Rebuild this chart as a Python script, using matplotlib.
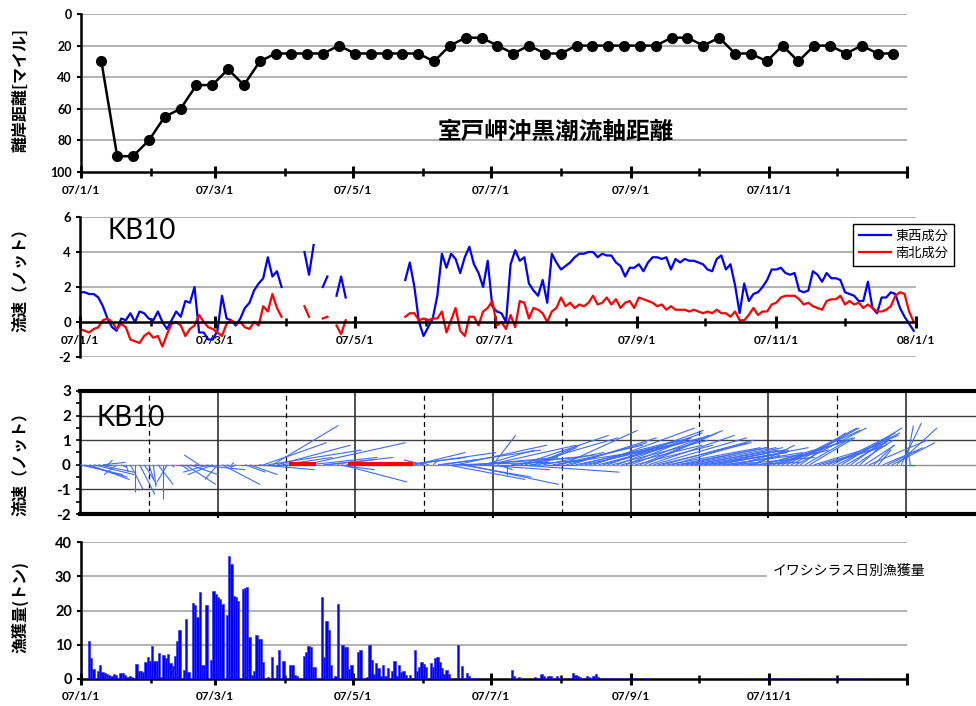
import numpy as np
import matplotlib.pyplot as plt
from matplotlib.collections import LineCollection

plt.rcParams['font.family'] = ['Lato', 'Noto Sans CJK JP', 'DejaVu Sans']

nan = np.nan

# x axis in days since 2007-01-01
month_start = [0, 31, 59, 90, 120, 151, 181, 212, 243, 273, 304, 334, 365]
major_days = [0, 59, 120, 181, 243, 304, 365]
minor_days = [31, 90, 151, 212, 273, 334]
major_labels = ['07/1/1', '07/3/1', '07/5/1', '07/7/1', '07/9/1', '07/11/1', '08/1/1']
major_labels_short = ['07/1/1', '07/3/1', '07/5/1', '07/7/1', '07/9/1', '07/11/1', '']

# panel 1: weekly distance of Kuroshio axis off Cape Muroto (miles)
axis_first_day = 9
axis_dist = [30, 90, 90, 80, 65, 60, 45, 45, 35, 45,
             30, 25, 25, 25, 25, 20, 25, 25, 25, 25,
             25, 30, 20, 15, 15, 20, 25, 20, 25, 25,
             20, 20, 20, 20, 20, 20, 15, 15, 20, 15,
             25, 25, 30, 20, 30, 20, 20, 25, 20, 25, 25]

# panel 2: current at KB10, every 2 days (knots)
cur_step = 2
east_west = [1.7, 1.7, 1.6, 1.6, 1.4, 0.9, 0.2, -0.3, -0.5, 0.2,
             0.1, 0.5, 0.0, 0.6, 0.5, 0.2, 0.1, 0.6, 0.0, -0.4,
             0.1, 0.6, 0.3, 1.2, 1.1, 2.0, -0.6, -0.6, -1.0, -1.0,
             -0.5, 1.5, 0.2, 0.1, -0.2, 0.2, 0.8, 1.1, 1.8, 2.2,
             2.5, 3.7, 2.6, 2.9, 2.0, nan, nan, nan, nan, 4.0,
             2.7, 4.4, nan, 2.0, 2.6, nan, 1.5, 2.6, 1.4, nan,
             nan, nan, nan, nan, nan, nan, nan, nan, nan, nan,
             nan, 2.4, 3.4, 2.0, 0.0, -0.8, -0.3, 0.2, 1.5, 3.9,
             3.1, 3.9, 3.6, 2.8, 3.7, 4.3, 3.3, 2.8, 2.0, 3.5,
             0.9, 0.6, 0.5, 0.0, 3.3, 4.1, 3.5, 3.7, 2.2, 1.8,
             1.5, 2.4, 1.1, 3.9, 3.4, 3.0, 3.2, 3.4, 3.7, 3.9,
             3.9, 4.0, 4.0, 3.7, 3.9, 3.8, 3.8, 3.4, 3.2, 2.6,
             3.1, 3.1, 3.3, 2.9, 3.4, 3.7, 3.7, 3.6, 3.7, 3.0,
             3.6, 3.4, 3.6, 3.5, 3.5, 3.4, 3.3, 3.0, 2.9, 3.6,
             3.8, 3.0, 3.3, 2.1, 0.5, 2.2, 1.2, 1.6, 1.7, 2.0,
             2.4, 3.0, 3.0, 3.1, 2.8, 2.7, 2.8, 1.8, 1.7, 1.8,
             2.9, 2.7, 2.3, 2.8, 2.5, 2.5, 2.4, 1.7, 1.6, 1.5,
             1.2, 1.2, 2.3, 0.8, 0.5, 1.4, 1.4, 1.7, 1.6, 0.8,
             0.3, -0.1, -0.5]
north_south = [-0.4, -0.5, -0.6, -0.4, -0.3, 0.1, 0.2, 0.0, -0.4, -0.1,
               -0.3, -1.0, -1.1, -1.2, -0.8, -0.6, -0.9, -0.8, -1.4, -0.7,
               -0.1, 0.0, -0.2, -0.8, -0.4, -0.2, 0.4, 0.0, -0.3, -0.4,
               -0.6, -0.8, -0.1, 0.1, -0.1, 0.0, -0.3, -0.4, 0.0, -0.2,
               0.9, 0.6, 1.6, 0.8, 0.3, nan, nan, nan, nan, 0.9,
               0.3, nan, nan, 0.2, 0.3, nan, -0.2, -0.7, 0.1, nan,
               nan, nan, nan, nan, nan, nan, nan, nan, nan, nan,
               nan, 0.3, 0.5, 0.5, 0.1, 0.2, 0.1, 0.2, 0.2, 0.6,
               -0.6, 0.1, 0.8, -0.5, -0.8, 0.3, 0.3, -0.2, 0.6, 0.8,
               1.2, -0.2, 0.0, -0.4, 0.4, -0.3, 1.2, 1.1, 0.2, 0.8,
               0.7, 0.5, 0.0, 0.6, 0.8, 1.4, 0.9, 1.1, 0.8, 1.0,
               0.9, 1.1, 1.5, 1.0, 1.1, 1.4, 1.0, 1.3, 0.8, 1.1,
               1.2, 0.8, 1.4, 1.3, 1.2, 1.1, 0.9, 1.0, 0.7, 0.9,
               0.7, 0.7, 0.7, 0.6, 0.7, 0.6, 0.5, 0.6, 0.5, 0.7,
               0.5, 0.5, 0.3, 0.6, 0.1, 0.1, 0.4, 0.8, 0.4, 0.6,
               0.6, 1.0, 1.1, 1.4, 1.5, 1.5, 1.5, 1.3, 1.0, 1.1,
               0.9, 0.8, 0.7, 1.2, 1.3, 1.3, 1.5, 1.0, 1.2, 1.0,
               1.1, 0.8, 1.0, 0.8, 0.6, 0.6, 0.7, 0.9, 1.5, 1.7,
               1.6, 0.6, 0.0]

# panel 3: periods without current data (days)
missing_start = [91, 117]
missing_end = [103, 145]
stick_days_per_knot = 11

# panel 4: daily sardine whitebait catch (tons), days with catch only
catch_day = [3, 4, 5, 7, 8, 9, 10, 11, 12, 13, 14, 15, 16, 17, 18, 19, 20, 21, 22,
             24, 25, 26, 27, 28, 29, 30, 31, 32, 33, 34, 35, 36, 37, 38, 39, 40, 41,
             42, 43, 45, 46, 47, 49, 50, 51, 52, 53, 54, 55, 57, 58, 59, 60, 61, 62,
             64, 65, 66, 67, 68, 69, 71, 72, 73, 74, 75, 76, 77, 78, 79, 80, 82, 84,
             86, 87, 89, 92, 93, 94, 95, 98, 99, 100, 101, 102, 103, 106, 107, 108,
             109, 110, 112, 113, 115, 116, 117, 118, 119, 122, 123, 126, 127, 128,
             129, 130, 131, 132, 133, 134, 135, 137, 138, 139, 140, 141, 142, 143,
             145, 147, 148, 149, 150, 151, 152, 154, 155, 156, 157, 158, 159, 160,
             161, 162, 166, 168, 170, 171, 173, 174, 175, 190, 191, 193, 200, 201,
             203, 204, 206, 207, 210, 211, 217, 218, 219, 220, 223, 224, 226, 227,
             228, 232, 233, 234, 238, 241, 244, 249, 302, 306, 310, 315, 320, 326,
             333, 338, 344]
catch_ton = [11.0, 6.2, 3.0, 2.3, 4.0, 2.0, 1.7, 1.4, 1.2, 0.8, 1.6, 1.2, 0.3, 1.8, 1.8, 1.2, 0.5, 0.9, 0.6,
             4.4, 2.2, 2.2, 2.0, 5.0, 6.5, 5.2, 9.7, 5.3, 5.2, 7.5, 0.5, 7.0, 6.0, 7.2, 4.8, 3.8, 6.8,
             11.0, 14.2, 2.5, 17.5, 2.0, 22.3, 21.5, 18.0, 25.5, 4.0, 4.2, 21.5, 5.6, 25.7, 24.7, 24.0, 23.5, 22.0,
             18.8, 35.8, 33.5, 24.3, 24.0, 22.8, 26.3, 26.5, 26.8, 12.3, 1.3, 2.3, 12.8, 11.8, 11.8, 5.0, 0.5, 6.5,
             4.0, 8.5, 5.3, 4.2, 4.2, 1.2, 1.0, 6.7, 8.0, 9.7, 9.3, 3.5, 3.5, 24.0, 6.5, 17.0,
             14.2, 4.0, 0.8, 22.0, 10.0, 9.3, 9.3, 3.0, 4.2, 7.8, 8.4, 0.6, 9.8, 5.5,
             1.5, 4.7, 3.2, 0.8, 4.0, 1.0, 3.2, 2.2, 5.3, 1.0, 4.0, 2.0, 2.4, 1.2,
             1.1, 8.5, 2.2, 3.6, 5.0, 4.4, 3.5, 4.6, 3.6, 6.0, 6.3, 5.0, 3.2, 1.5,
             2.5, 1.5, 9.8, 3.8, 1.8, 1.0, 0.3, 0.3, 0.3, 2.7, 1.0, 0.5, 0.5, 0.4,
             1.5, 1.0, 1.0, 0.8, 0.8, 0.3, 1.8, 1.2, 0.8, 0.6, 0.8, 0.5, 1.0, 1.4,
             0.6, 0.4, 0.4, 0.2, 0.3, 0.3, 0.3, 0.2, 0.3, 0.4, 0.3, 0.3, 0.2, 0.2,
             0.2, 0.2, 0.2]

fig = plt.figure(figsize=(9.76, 7.06), dpi=100)
W, H = 976.0, 706.0
jp = ['Noto Sans CJK JP']


def box(l, t, r, b):
    return [l / W, 1 - b / H, (r - l) / W, (b - t) / H]


def date_axis(ax, labels):
    ax.set_xticks(major_days)
    ax.set_xticklabels(labels, fontsize=8.5, fontweight='bold')
    ax.set_xticks(minor_days, minor=True)
    ax.tick_params(axis='x', which='major', direction='inout', length=8, width=2.2, pad=5)
    ax.tick_params(axis='x', which='minor', direction='inout', length=6, width=1.8)


def ylab(y, text):
    fig.text(20 / W, 1 - y / H, text, rotation=90, ha='center', va='center',
             fontsize=11.5, fontweight='bold', family=jp)


grid_kw = dict(color='#a6a6a6', lw=1.2)

# ---- panel 1
ax1 = fig.add_axes(box(81, 14, 907, 172))
days1 = axis_first_day + 7 * np.arange(len(axis_dist))
ax1.plot(days1, axis_dist, color='black', lw=1.8, marker='o', ms=7, zorder=3)
ax1.set_xlim(0, 365)
ax1.set_ylim(100, 0)
ax1.set_yticks([0, 20, 40, 60, 80, 100])
ax1.set_yticklabels(['0', '20', '40', '60', '80', '100'], fontsize=9, fontweight='bold')
ax1.tick_params(axis='y', direction='out', length=3, width=1.5)
for v in [0, 20, 40, 60, 80]:
    ax1.axhline(v, zorder=0, **grid_kw)
date_axis(ax1, major_labels_short)
for s in ['top', 'right']:
    ax1.spines[s].set_visible(False)
ax1.spines['left'].set_linewidth(1.8)
ax1.spines['bottom'].set_linewidth(1.8)
ax1.text((556 - 81) / 826, (172 - 132) / 158, '室戸岬沖黒潮流軸距離', transform=ax1.transAxes,
         fontsize=17, fontweight='bold', ha='center', va='center', family=jp)
ylab(90, '離岸距離[マイル]')

# ---- panel 2
ax2 = fig.add_axes(box(80, 217, 916, 357))
days2 = cur_step * np.arange(len(east_west))
ax2.plot(days2, east_west, color='#0000ff', lw=1.6, label='東西成分')
ax2.plot(days2, north_south, color='#ff0000', lw=1.6, label='南北成分')
ax2.set_xlim(0, 365)
ax2.set_ylim(-2, 6)
ax2.set_yticks([-2, 0, 2, 4, 6])
ax2.set_yticklabels(['-2', '0', '2', '4', '6'], fontsize=9.5, fontweight='bold')
ax2.tick_params(axis='y', direction='out', length=3, width=1.5)
for v in [-2, 2, 4, 6]:
    ax2.axhline(v, zorder=0, **grid_kw)
ax2.spines['bottom'].set_position(('data', 0))
date_axis(ax2, major_labels)
for s in ['top', 'right']:
    ax2.spines[s].set_visible(False)
ax2.spines['left'].set_linewidth(1.8)
ax2.spines['bottom'].set_linewidth(1.8)
ax2.text(0.033, 0.9, 'KB10', transform=ax2.transAxes, fontsize=20, ha='left', va='center')
leg = ax2.legend(loc='upper left', bbox_to_anchor=(853 / W, 1 - 224 / H),
                 bbox_transform=fig.transFigure, fancybox=False, borderaxespad=0,
                 edgecolor='black', framealpha=1, borderpad=0.45, handlelength=2.4,
                 handletextpad=0.35, labelspacing=0.3, prop={'family': jp, 'size': 9.5})
leg.get_frame().set_linewidth(1.0)
ylab(276, '流速（ノット）')

# ---- panel 3 (stick plot)
ax3 = fig.add_axes(box(80, 391, 976, 514))
u = np.array(east_west)
v = np.array(north_south)
ok = ~np.isnan(u) & ~np.isnan(v)
segs = [[(d, 0), (d + uu * stick_days_per_knot, vv)]
        for d, uu, vv in zip(days2[ok], u[ok], v[ok])]
ax3.add_collection(LineCollection(segs, colors='#3d6bff', linewidths=0.8, zorder=3))
for s0, s1 in zip(missing_start, missing_end):
    ax3.plot([s0, s1], [0.05, 0.05], color='#ff0000', lw=3, solid_capstyle='butt', zorder=4)
ax3.set_xlim(0, (976 - 80) / 2.294)
ax3.set_ylim(-2, 3)
for yv in [-1, 1, 2]:
    ax3.axhline(yv, color='#404040', lw=1.0, zorder=1)
ax3.axhline(0, color='#909090', lw=1.0, zorder=1)
for k, xv in enumerate(range(30, 390, 30)):
    if k % 2 == 0:
        ax3.axvline(xv, color='black', lw=0.9, ls=(0, (4, 3)), zorder=1)
    else:
        ax3.axvline(xv, color='#303030', lw=1.2, zorder=1)
ax3.set_yticks([-2, -1, 0, 1, 2, 3])
ax3.set_yticklabels(['-2', '-1', '0', '1', '2', '3'], fontsize=11, fontweight='bold')
ax3.set_yticks(np.arange(-2, 3, 0.5), minor=True)
ax3.tick_params(axis='y', which='both', direction='out', length=3, width=1.2)
ax3.set_xticks(range(60, 390, 60))
ax3.set_xticklabels([])
ax3.tick_params(axis='x', direction='out', length=3, width=1.5)
ax3.spines['top'].set_linewidth(3)
ax3.spines['bottom'].set_linewidth(3)
ax3.spines['left'].set_linewidth(1.8)
ax3.spines['right'].set_visible(False)
ax3.text(0.018, 0.78, 'KB10', transform=ax3.transAxes, fontsize=20, ha='left', va='center')
ylab(460, '流速（ノット）')

# ---- panel 4
ax4 = fig.add_axes(box(81, 542, 907, 679))
ax4.bar(catch_day, catch_ton, width=1.0, align='edge', color='#0000ff',
        edgecolor='#2a2aff', linewidth=0.4, zorder=3)
ax4.set_xlim(0, 365)
ax4.set_ylim(0, 40)
ax4.set_yticks([0, 10, 20, 30, 40])
ax4.set_yticklabels(['0', '10', '20', '30', '40'], fontsize=10.5, fontweight='bold')
ax4.tick_params(axis='y', direction='out', length=3, width=1.5)
for yv in [10, 20, 30, 40]:
    ax4.axhline(yv, zorder=0, **grid_kw)
date_axis(ax4, major_labels_short)
for s in ['top', 'right']:
    ax4.spines[s].set_visible(False)
ax4.spines['left'].set_linewidth(1.8)
ax4.spines['bottom'].set_linewidth(1.8)
ax4.text(773 / W, 1 - 571 / H, 'イワシシラス日別漁獲量', transform=fig.transFigure,
         fontsize=10, ha='left', va='center', family=jp,
         bbox=dict(facecolor='white', edgecolor='none', pad=4), zorder=5)
ylab(607, '漁獲量(トン)')

fig.savefig('out.png', dpi=100)
